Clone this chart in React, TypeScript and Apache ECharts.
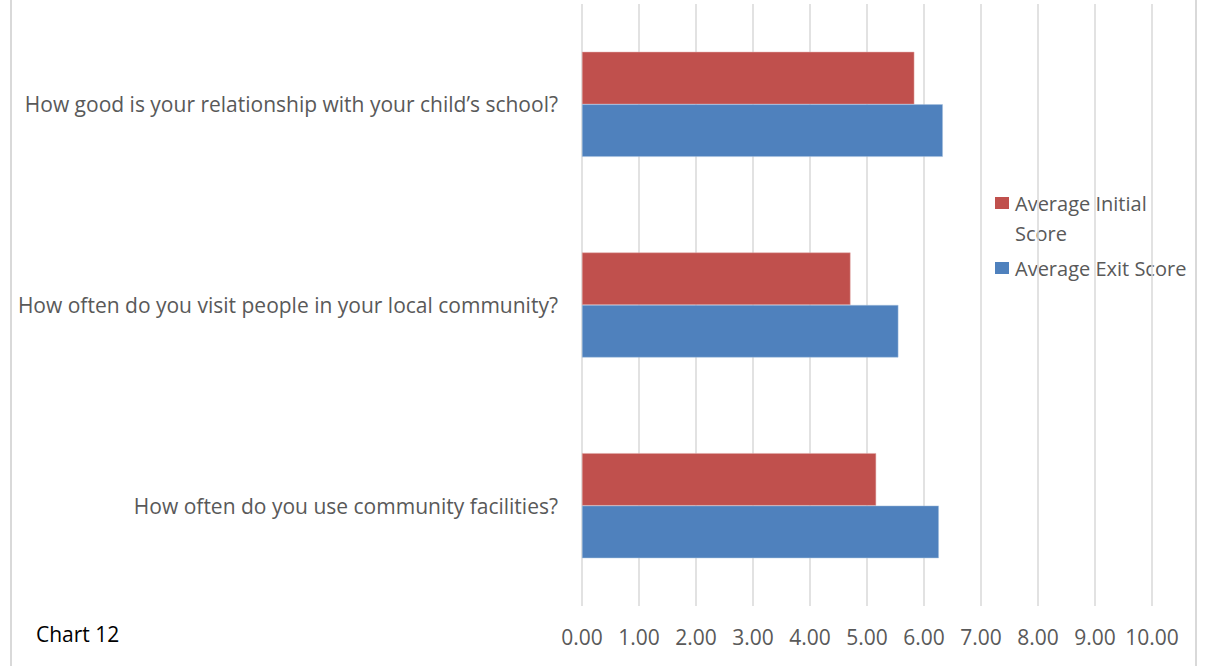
import React, { useEffect, useRef } from "react";
import * as echarts from "echarts";

const categories = [
  "How often do you use community facilities?",
  "How often do you visit people in your local community?",
  "How good is your relationship with your child\u2019s school?",
];
const seriesNames = ["Average Initial Score", "Average Exit Score"];
const legendLabels = ["Average Initial\nScore", "Average Exit Score"];
const seriesColors = ["#c0504d", "#4f81bd"];
const initialScores = [5.16, 4.71, 5.83];
const exitScores = [6.26, 5.55, 6.33];
const xTicks = { min: 0, max: 10, interval: 1 };
const chartLabel = "Chart 12";

const FONT = "'Open Sans', sans-serif";

export default function App() {
  const ref = useRef<HTMLDivElement>(null);
  useEffect(() => {
    if (!ref.current) return;
    const chart = echarts.init(ref.current, null, { renderer: "svg" });
    const legendTops = [197, 262];
    const legendGraphics: any[] = [];
    seriesNames.forEach((name, i) => {
      legendGraphics.push({
        type: "rect",
        silent: true,
        shape: { x: 995, y: legendTops[i], width: 14, height: 12 },
        style: { fill: seriesColors[i] },
      });
      legendGraphics.push({
        type: "text",
        silent: true,
        x: 1015,
        y: legendTops[i] + 6 - 15,
        style: {
          text: legendLabels[i],
          fill: "#595959",
          font: `20px ${FONT}`,
          lineHeight: 30,
          verticalAlign: "top",
        },
      });
    });
    chart.setOption({
      animation: false,
      textStyle: { fontFamily: FONT },
      grid: { left: 582, right: 57, top: 4, bottom: 60, containLabel: false },
      xAxis: {
        type: "value",
        min: xTicks.min,
        max: xTicks.max,
        interval: xTicks.interval,
        axisLine: { show: false },
        axisTick: { show: false },
        splitLine: { show: true, lineStyle: { color: "#d9d9d9", width: 1.5 } },
        axisLabel: {
          formatter: (v: number) => v.toFixed(2),
          color: "#595959",
          fontSize: 21,
          fontFamily: FONT,
          margin: 20,
        },
      },
      yAxis: {
        type: "category",
        data: categories,
        axisLine: { show: false },
        axisTick: { show: false },
        axisLabel: { color: "#595959", fontSize: 21, fontFamily: FONT, margin: 24 },
      },
      series: [
        {
          name: seriesNames[0],
          type: "bar",
          data: initialScores,
          barWidth: 52.5,
          barGap: "0%",
          itemStyle: { color: seriesColors[0], borderColor: "#e0a8a6", borderWidth: 0.5 },
        },
        {
          name: seriesNames[1],
          type: "bar",
          data: exitScores,
          barWidth: 52.5,
          barGap: "0%",
          itemStyle: { color: seriesColors[1], borderColor: "#a7c0de", borderWidth: 0.5 },
        },
      ],
      graphic: [
        {
          type: "rect",
          silent: true,
          shape: { x: 11, y: -10, width: 1185, height: 700 },
          style: { fill: "none", stroke: "#d9d9d9", lineWidth: 2 },
        },
        {
          type: "text",
          left: 36,
          top: 623,
          style: { text: chartLabel, fill: "#000", font: `21px ${FONT}` },
        },
        ...legendGraphics,
      ],
    });
    return () => chart.dispose();
  }, []);
  return (
    <div
      ref={ref}
      style={{ position: "fixed", left: 0, top: 0, width: 1209, height: 666, background: "#fff" }}
    />
  );
}
